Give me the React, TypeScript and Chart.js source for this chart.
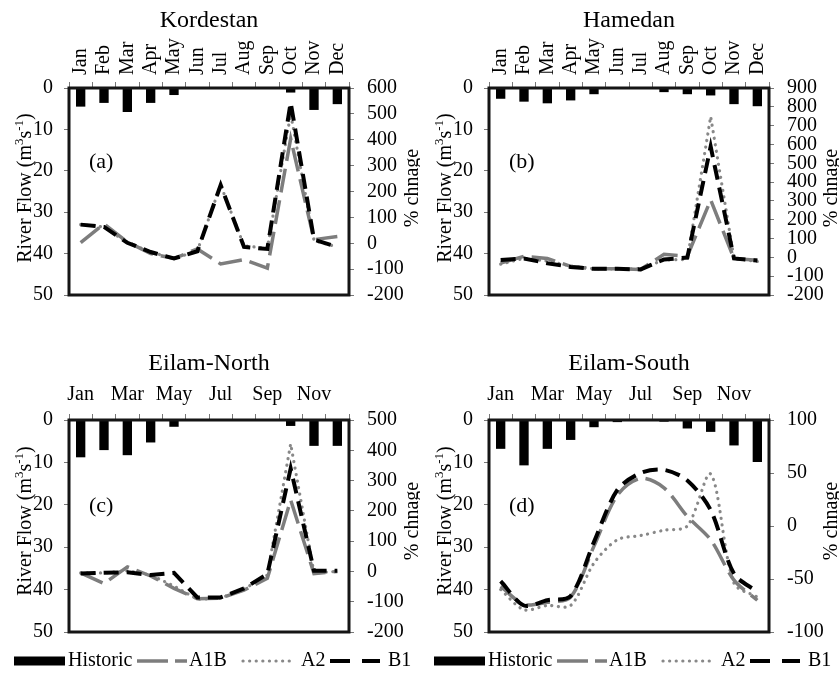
import React, { useEffect, useRef } from "react";
import { Chart, registerables } from "chart.js";

Chart.register(...registerables);

const FONT = "'Liberation Serif', 'Times New Roman', serif";

const MONTHS = ["Jan", "Feb", "Mar", "Apr", "May", "Jun", "Jul", "Aug", "Sep", "Oct", "Nov", "Dec"];
const SERIES_NAMES = ["Historic", "A1B", "A2", "B1"];

// (a) Kordestan
const KOR_HISTORIC = [4.5, 3.6, 5.8, 3.6, 1.7, 0, 0, 0, 0, 1.1, 5.3, 3.9];
const KOR_A1B = [2, 75, 5, -40, -59, -22, -80, -63, -96, 404, 14, 26];
const KOR_A2 = [72, 63, 2, -34, -59, -30, 225, -10, -20, 500, 10, -14];
const KOR_B1 = [72, 63, 2, -34, -59, -31, 225, -14, -22, 544, 14, -14];

// (b) Hamedan
const HAM_HISTORIC = [2.6, 3.3, 3.7, 3.0, 1.5, 0, 0, 1.0, 1.5, 1.8, 3.9, 4.4];
const HAM_A1B = [-31, 6, -6, -48, -61, -61, -64, 16, 6, 305, -6, -15];
const HAM_A2 = [-36, -5, -20, -45, -61, -61, -60, -14, -11, 748, -5, -22];
const HAM_B1 = [-14, -6, -31, -51, -61, -61, -64, -11, -1, 589, -6, -17];

// (c) Eilam-North
const ENO_HISTORIC = [8.8, 7.1, 8.3, 5.3, 1.6, 0, 0, 0, 0, 1.4, 6.1, 6.1];
const ENO_A1B = [-5, -40, 15, -15, -56, -90, -88, -62, -23, 236, -7, 0];
const ENO_A2 = [-5, -5, 2, -12, -48, -92, -88, -58, -12, 421, -5, 0];
const ENO_B1 = [-7, -4, -3, -12, -5, -86, -86, -56, -9, 340, 2, 2];

// (d) Eilam-South
const ESO_HISTORIC = [6.8, 10.7, 6.8, 4.7, 1.7, 0.5, 0, 0.4, 2.0, 2.8, 6.0, 9.9];
const ESO_A1B = [-57, -74, -72, -67, -19, 29, 45, 36, 9, -13, -51, -70];
const ESO_A2 = [-60, -79, -75, -75, -35, -13, -9, -4, 0, 49, -54, -67];
const ESO_B1 = [-52, -75, -70, -66, -15, 34, 50, 53, 43, 15, -45, -62];

// axis ranges [min, max, step]
const FLOW_RANGE = [0, 50, 10];
const KOR_CHANGE_RANGE = [-200, 600, 100];
const HAM_CHANGE_RANGE = [-200, 900, 100];
const ENO_CHANGE_RANGE = [-200, 500, 100];
const ESO_CHANGE_RANGE = [-100, 100, 50];

const LEFT_TITLE = "River Flow (m";
const RIGHT_TITLE = "% chnage";

const STYLE = {
  A1B: { color: "#7d7d7d", width: 3.5, dash: [24, 8], cap: "butt" },
  A2: { color: "#888888", width: 3.2, dash: [0.1, 6.5], cap: "round" },
  B1: { color: "#000000", width: 4, dash: [15, 8], cap: "butt" },
};

function drawLeftTitle(ctx: CanvasRenderingContext2D, cx: number, cy: number) {
  const parts = [
    { t: LEFT_TITLE, sup: false },
    { t: "3", sup: true },
    { t: "s", sup: false },
    { t: "-1", sup: true },
    { t: ")", sup: false },
  ];
  ctx.save();
  ctx.translate(cx, cy);
  ctx.rotate(-Math.PI / 2);
  ctx.fillStyle = "#000";
  ctx.textBaseline = "alphabetic";
  ctx.textAlign = "left";
  let total = 0;
  for (const p of parts) {
    ctx.font = p.sup ? `13px ${FONT}` : `20px ${FONT}`;
    total += ctx.measureText(p.t).width;
  }
  let x = -total / 2;
  for (const p of parts) {
    ctx.font = p.sup ? `13px ${FONT}` : `20px ${FONT}`;
    ctx.fillText(p.t, x, p.sup ? -1 : 7);
    x += ctx.measureText(p.t).width;
  }
  ctx.restore();
}

function drawRightTitle(ctx: CanvasRenderingContext2D, cx: number, cy: number) {
  ctx.save();
  ctx.translate(cx, cy);
  ctx.rotate(-Math.PI / 2);
  ctx.fillStyle = "#000";
  ctx.font = `20px ${FONT}`;
  ctx.textAlign = "center";
  ctx.textBaseline = "alphabetic";
  ctx.fillText(RIGHT_TITLE, 0, 7);
  ctx.restore();
}

function drawLegend(ctx: CanvasRenderingContext2D, y: number) {
  ctx.save();
  ctx.font = `20px ${FONT}`;
  ctx.textBaseline = "alphabetic";
  ctx.textAlign = "left";
  ctx.fillStyle = "#000";
  ctx.fillRect(14, y - 4.5, 51, 9);
  ctx.fillText(SERIES_NAMES[0], 68, y + 5);
  const lineItem = (x0: number, x1: number, key: "A1B" | "A2" | "B1", tx: number, name: string) => {
    const s = STYLE[key];
    ctx.save();
    ctx.strokeStyle = s.color;
    ctx.lineWidth = s.width;
    ctx.setLineDash(key === "A1B" ? [31, 7] : key === "B1" ? [20, 12] : s.dash);
    ctx.lineCap = s.cap as CanvasLineCap;
    ctx.beginPath();
    ctx.moveTo(x0, y);
    ctx.lineTo(x1, y);
    ctx.stroke();
    ctx.restore();
    ctx.fillText(name, tx, y + 5);
  };
  lineItem(137, 187, "A1B", 189, SERIES_NAMES[1]);
  lineItem(243, 292, "A2", 301, SERIES_NAMES[2]);
  lineItem(330, 380, "B1", 388, SERIES_NAMES[3]);
  ctx.restore();
}

const decorPlugin = {
  id: "decor",
  afterDatasetsDraw(chart: any) {
    const { ctx, chartArea } = chart;
    ctx.save();
    ctx.strokeStyle = "#151515";
    ctx.lineWidth = 3;
    ctx.setLineDash([]);
    ctx.strokeRect(chartArea.left, chartArea.top, chartArea.right - chartArea.left, chartArea.bottom - chartArea.top);
    ctx.restore();
  },
  afterDraw(chart: any, _args: any, opts: any) {
    const { ctx, chartArea } = chart;
    ctx.save();
    ctx.fillStyle = "#000";
    ctx.font = `24px ${FONT}`;
    ctx.textAlign = "center";
    ctx.textBaseline = "alphabetic";
    ctx.fillText(opts.title, (chartArea.left + chartArea.right) / 2, opts.titleY);
    ctx.font = `22px ${FONT}`;
    ctx.textAlign = "left";
    ctx.fillText(opts.tag, 89, opts.tagY);
    ctx.restore();
    drawLeftTitle(ctx, 24, opts.axisTitleY);
    drawRightTitle(ctx, chart.width - 9, opts.axisTitleY);
    if (opts.legend) drawLegend(ctx, opts.legendY);
  },
};

type PanelProps = {
  title: string;
  tag: string;
  hist: number[];
  a1b: number[];
  a2: number[];
  b1: number[];
  change: number[];
  rotate: boolean;
  smooth: number;
  legend: boolean;
  left: number;
  top: number;
  width: number;
  height: number;
};

function Panel(p: PanelProps) {
  const ref = useRef<HTMLCanvasElement | null>(null);
  useEffect(() => {
    if (!ref.current) return;
    const plotTop = p.legend ? 100 : 88;
    const plotBottom = p.legend ? 312 : 307;
    const padTop = p.legend ? 60 : 30;
    const tickFont = { family: FONT, size: 20 };
    const lineDs = (key: "A1B" | "A2" | "B1", data: number[], order: number) => {
      const s = STYLE[key];
      return {
        type: "line" as const,
        label: key,
        data,
        xAxisID: "x",
        yAxisID: "y1",
        borderColor: s.color,
        backgroundColor: s.color,
        borderWidth: s.width,
        borderDash: s.dash,
        borderCapStyle: s.cap,
        pointRadius: 0,
        tension: p.smooth,
        fill: false,
        order,
      };
    };
    const chart = new Chart(ref.current, {
      type: "bar",
      data: {
        labels: MONTHS,
        datasets: [
          {
            type: "bar",
            label: SERIES_NAMES[0],
            data: p.hist,
            xAxisID: "x",
            yAxisID: "y",
            backgroundColor: "#000",
            barPercentage: 0.4,
            categoryPercentage: 1,
            order: 5,
          } as any,
          lineDs("A2", p.a2, 3),
          lineDs("A1B", p.a1b, 2),
          lineDs("B1", p.b1, 1),
        ],
      },
      options: {
        responsive: false,
        animation: false,
        layout: { padding: { top: padTop, bottom: p.height - plotBottom, left: 0, right: 0 } },
        plugins: {
          legend: { display: false },
          tooltip: { enabled: false },
          decor: {
            title: p.title,
            titleY: p.legend ? 50 : 27,
            tag: p.tag,
            tagY: p.legend ? 192 : 168,
            axisTitleY: p.legend ? 201 : 188,
            legend: p.legend,
            legendY: 341,
          },
        } as any,
        scales: {
          x: {
            type: "category",
            position: "top",
            offset: true,
            grid: { offset: true, drawOnChartArea: false, drawTicks: true, tickLength: 6, color: "#777", lineWidth: 1 },
            border: { display: false },
            ticks: {
              color: "#000",
              font: tickFont,
              padding: 7,
              autoSkip: false,
              labelOffset: p.rotate ? 24 : 0,
              maxRotation: p.rotate ? 90 : 0,
              minRotation: p.rotate ? 90 : 0,
              callback: (_v: any, i: number) => (p.rotate || i % 2 === 0 ? MONTHS[i] : ""),
            },
            afterFit: (s: any) => {
              s.height = plotTop - padTop;
            },
          },
          y: {
            position: "left",
            reverse: true,
            min: FLOW_RANGE[0],
            max: FLOW_RANGE[1],
            ticks: { stepSize: FLOW_RANGE[2], color: "#000", font: tickFont, padding: 11, autoSkip: false },
            grid: { drawOnChartArea: false, drawTicks: true, tickLength: 5, color: "#777" },
            border: { display: false },
            afterFit: (s: any) => {
              s.width = 69;
            },
          },
          y1: {
            position: "right",
            min: p.change[0],
            max: p.change[1],
            ticks: { stepSize: p.change[2], color: "#000", font: tickFont, padding: 13, autoSkip: false, maxTicksLimit: 30 },
            grid: { drawOnChartArea: false, drawTicks: true, tickLength: 5, color: "#777" },
            border: { display: false },
            afterFit: (s: any) => {
              s.width = p.width - 349;
            },
          },
        },
      } as any,
      plugins: [decorPlugin as any],
    });
    return () => chart.destroy();
  }, []);
  return (
    <div style={{ position: "absolute", left: p.left, top: p.top, width: p.width, height: p.height }}>
      <canvas ref={ref} width={p.width} height={p.height} style={{ display: "block" }} />
    </div>
  );
}

export default function App() {
  return (
    <div style={{ position: "absolute", left: 0, top: 0, width: 839, height: 674, background: "#fff", overflow: "hidden" }}>
      <Panel title="Kordestan" tag="(a)" hist={KOR_HISTORIC} a1b={KOR_A1B} a2={KOR_A2} b1={KOR_B1}
        change={KOR_CHANGE_RANGE} rotate={true} smooth={0} legend={false} left={0} top={0} width={420} height={320} />
      <Panel title="Hamedan" tag="(b)" hist={HAM_HISTORIC} a1b={HAM_A1B} a2={HAM_A2} b1={HAM_B1}
        change={HAM_CHANGE_RANGE} rotate={true} smooth={0} legend={false} left={420} top={0} width={419} height={320} />
      <Panel title="Eilam-North" tag="(c)" hist={ENO_HISTORIC} a1b={ENO_A1B} a2={ENO_A2} b1={ENO_B1}
        change={ENO_CHANGE_RANGE} rotate={false} smooth={0} legend={true} left={0} top={320} width={420} height={354} />
      <Panel title="Eilam-South" tag="(d)" hist={ESO_HISTORIC} a1b={ESO_A1B} a2={ESO_A2} b1={ESO_B1}
        change={ESO_CHANGE_RANGE} rotate={false} smooth={0.3} legend={true} left={420} top={320} width={419} height={354} />
    </div>
  );
}
